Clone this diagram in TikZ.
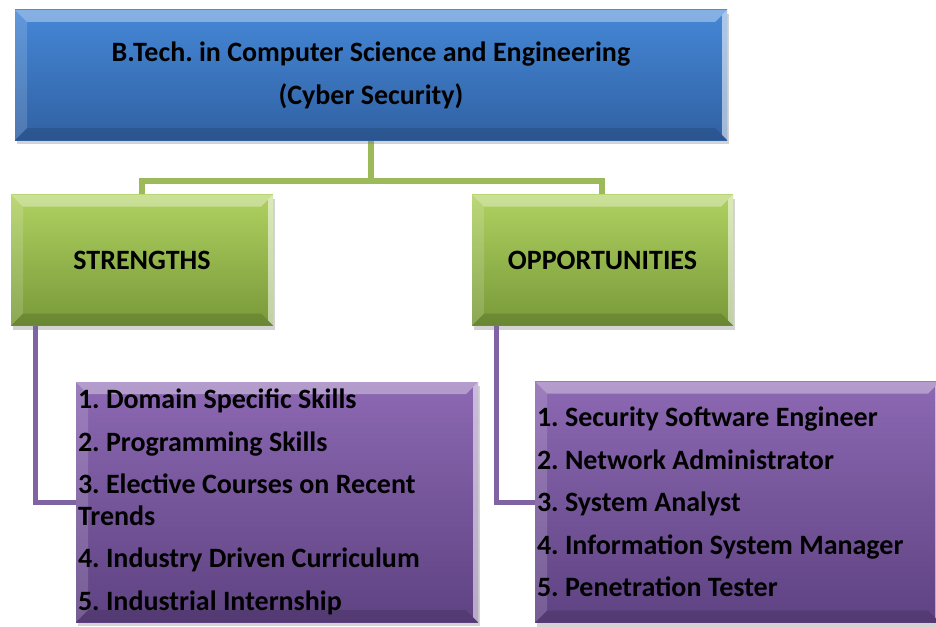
\documentclass[tikz,border=0pt]{standalone}
\usepackage{fontspec}
\setmainfont{Carlito}
\frenchspacing
\usetikzlibrary{shadows}
\definecolor{blueTop}{rgb}{0.27,0.53,0.84}
\definecolor{blueBot}{rgb}{0.19,0.38,0.64}
\definecolor{greenTop}{rgb}{0.69,0.82,0.38}
\definecolor{greenBot}{rgb}{0.47,0.60,0.22}
\definecolor{greenLine}{rgb}{0.61,0.73,0.35}
\definecolor{purpleTop}{rgb}{0.55,0.41,0.70}
\definecolor{purpleBot}{rgb}{0.37,0.26,0.51}
\definecolor{purpleLine}{rgb}{0.50,0.39,0.64}

\tikzset{
  bevel/.style={path picture={
    \fill[white,opacity=0.35] (path picture bounding box.north west) -- (path picture bounding box.north east)
      -- ([shift={(-#1,-#1)}]path picture bounding box.north east) -- ([shift={(#1,-#1)}]path picture bounding box.north west) -- cycle;
    \fill[white,opacity=0.15] (path picture bounding box.north west) -- (path picture bounding box.south west)
      -- ([shift={(#1,#1)}]path picture bounding box.south west) -- ([shift={(#1,-#1)}]path picture bounding box.north west) -- cycle;
    \fill[white,opacity=0.55] (path picture bounding box.north east) -- (path picture bounding box.south east)
      -- ([shift={(-0.4*#1,0.4*#1)}]path picture bounding box.south east) -- ([shift={(-0.4*#1,-0.4*#1)}]path picture bounding box.north east) -- cycle;
    \fill[black,opacity=0.12] (path picture bounding box.south west) -- (path picture bounding box.south east)
      -- ([shift={(-#1,#1)}]path picture bounding box.south east) -- ([shift={(#1,#1)}]path picture bounding box.south west) -- cycle;
  }},
  bevel/.default=12pt,
  box/.style={rectangle, inner sep=2pt, bevel, font=\bfseries\fontsize{28}{43}\selectfont,
    drop shadow={opacity=0.35, shadow xshift=2pt, shadow yshift=-4pt}},
  titlebox/.style={box, top color=blueTop, bottom color=blueBot, align=center},
  headbox/.style={box, top color=greenTop, bottom color=greenBot},
  itembox/.style={box, top color=purpleTop, bottom color=purpleBot, align=flush left,
    font=\bfseries\fontsize{28}{42.5}\selectfont},
  gline/.style={greenLine, line width=6pt},
  pline/.style={purpleLine, line width=5pt},
}

\begin{document}
\begin{tikzpicture}[x=1pt,y=-1pt]
\useasboundingbox (0,0) rectangle (936,626);
%
% green connectors
%
\coordinate (split) at (371,181);
\draw[gline] (371,140) -- (split);
\draw[gline] (split) -| (142,200);
\draw[gline] (split) -| (602,200);
%
% title and heads
%
\node[titlebox, minimum width=712pt, minimum height=130pt] (title) at (371,75)
  {B.Tech. in Computer Science and Engineering\\(Cyber Security)};
\node[headbox, minimum width=262pt, minimum height=131pt] (str) at (142,260) {STRENGTHS};
\node[headbox, minimum width=261pt, minimum height=131pt] (opp) at (602.5,260) {OPPORTUNITIES};
%
% purple lists
%
\node[itembox, minimum width=402pt, minimum height=240pt, text width=398pt] (sitems) at (277,502)
  {1. Domain Specific Skills\\
   2. Programming Skills\\
   3. Elective Courses on Recent\\[-11pt]Trends\\
   4. Industry Driven Curriculum\\
   5. Industrial Internship};
\node[itembox, minimum width=405pt, minimum height=241pt, text width=401pt] (oitems) at (737.5,502)
  {1. Security Software Engineer\\
   2. Network Administrator\\
   3. System Analyst\\
   4. Information System Manager\\
   5. Penetration Tester};
\draw[pline] ([xshift=25pt]str.south west) |- (sitems.west);
\draw[pline] ([xshift=25pt]opp.south west) |- (oitems.west);
\end{tikzpicture}
\end{document}
